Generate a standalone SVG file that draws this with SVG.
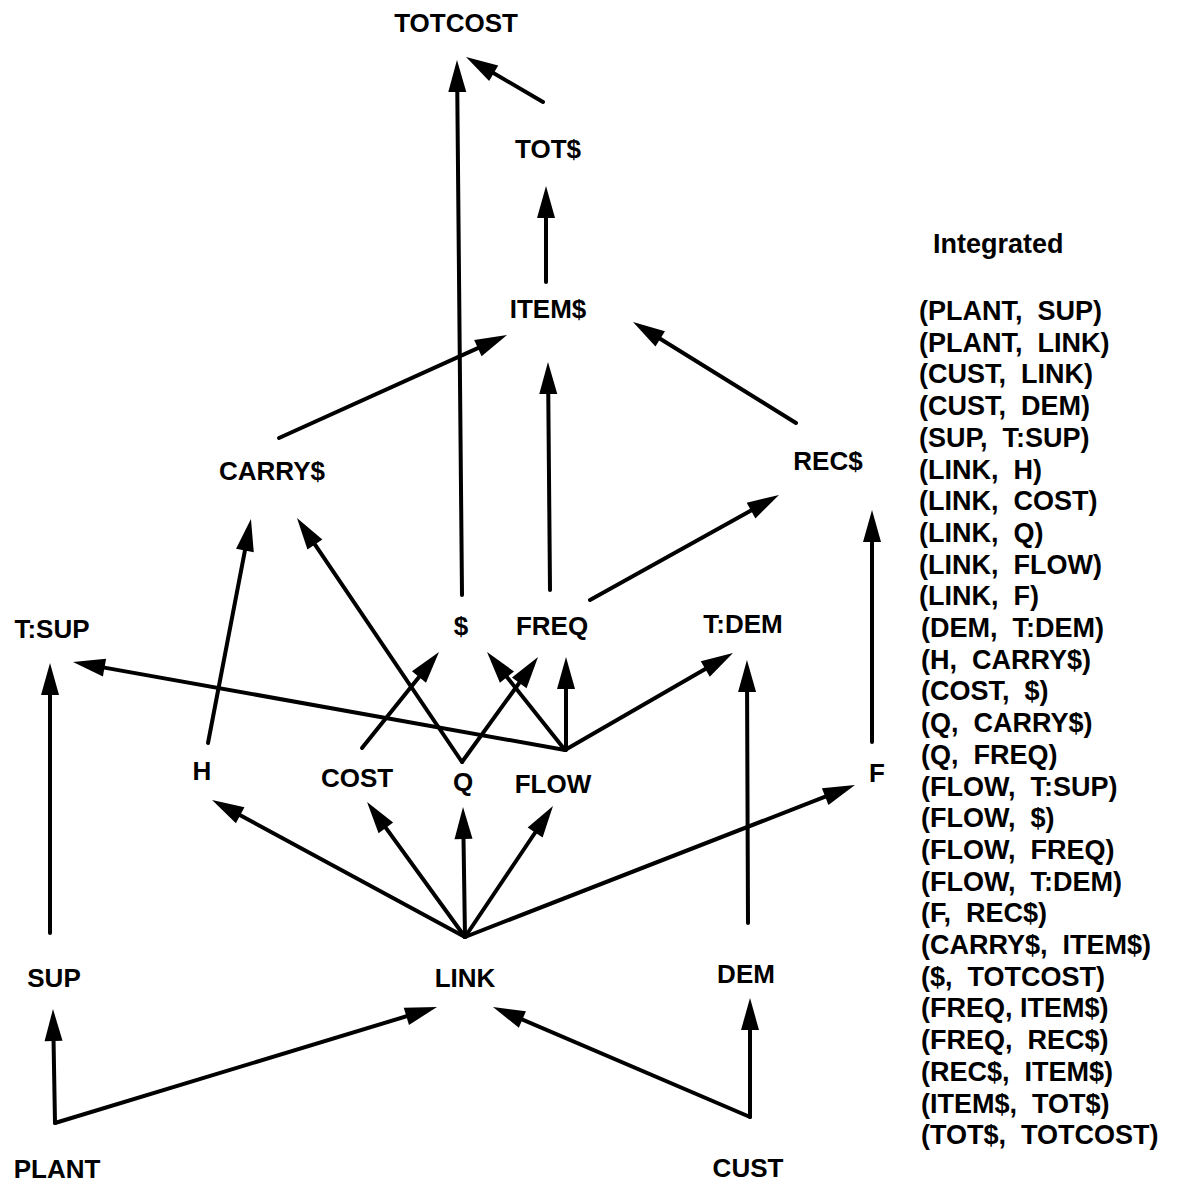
<svg xmlns="http://www.w3.org/2000/svg" width="1177" height="1185" viewBox="0 0 1177 1185">
  <style>
    .lbl { font-family: "Liberation Sans", Arial, sans-serif; font-weight: bold; font-size: 26px; fill: #000; text-anchor: middle; }
    .lst { font-family: "Liberation Sans", Arial, sans-serif; font-weight: bold; font-size: 27px; fill: #000; white-space: pre; }
    .edge { fill: none; stroke: #000; stroke-width: 4; stroke-linecap: round; marker-end: url(#head); }
  </style>
  <defs>
    <marker id="head" markerUnits="userSpaceOnUse" markerWidth="32" markerHeight="18" refX="20" refY="9" orient="auto" overflow="visible">
      <path d="M0,0 L32,9 L0,18 Z" fill="#000"/>
    </marker>
  </defs>
  <rect width="1177" height="1185" fill="#fff"/>

  <g id="connectors">
    <path class="edge" d="M462,595 L457.1,72"/>
    <path class="edge" d="M543,102 L476.4,63.1"/>
    <path class="edge" d="M546,282 L546,198"/>
    <path class="edge" d="M279,438 L496.1,339.9"/>
    <path class="edge" d="M550,590 L548.1,374"/>
    <path class="edge" d="M796,423 L643.2,328.3"/>
    <path class="edge" d="M208,743 L248.7,530.8"/>
    <path class="edge" d="M462,762 L303.7,527.9"/>
    <path class="edge" d="M462,762 L531,666.7"/>
    <path class="edge" d="M362,748 L431.5,661.4"/>
    <path class="edge" d="M565,750 L494.5,661.4"/>
    <path class="edge" d="M566,750 L566,669"/>
    <path class="edge" d="M565,750 L84.8,664.1"/>
    <path class="edge" d="M565,750 L722.6,659"/>
    <path class="edge" d="M590,600 L768.5,500.8"/>
    <path class="edge" d="M748,923 L747,672"/>
    <path class="edge" d="M872,742 L872,522"/>
    <path class="edge" d="M50,933 L50,675"/>
    <path class="edge" d="M465,937 L222.6,805.7"/>
    <path class="edge" d="M465,937 L374.1,811.7"/>
    <path class="edge" d="M465,937 L463.2,819"/>
    <path class="edge" d="M465,937 L546.3,816"/>
    <path class="edge" d="M465,937 L843.8,789.4"/>
    <path class="edge" d="M55,1123 L53.2,1021"/>
    <path class="edge" d="M55,1123 L425.5,1010.5"/>
    <path class="edge" d="M750,1117 L750,1010"/>
    <path class="edge" d="M750,1117 L504,1011.7"/>
  </g>

  <g id="n-totcost"><text class="lbl" x="456" y="32">TOTCOST</text></g>
  <g id="n-tot"><text class="lbl" x="548" y="158">TOT$</text></g>
  <g id="n-item"><text class="lbl" x="548" y="318">ITEM$</text></g>
  <g id="n-carry"><text class="lbl" x="272" y="480">CARRY$</text></g>
  <g id="n-rec"><text class="lbl" x="828" y="470">REC$</text></g>
  <g id="n-tsup"><text class="lbl" x="52" y="638">T:SUP</text></g>
  <g id="n-dollar"><text class="lbl" x="461" y="635">$</text></g>
  <g id="n-freq"><text class="lbl" x="552" y="635">FREQ</text></g>
  <g id="n-tdem"><text class="lbl" x="743" y="633">T:DEM</text></g>
  <g id="n-h"><text class="lbl" x="202" y="780">H</text></g>
  <g id="n-cost"><text class="lbl" x="357" y="787">COST</text></g>
  <g id="n-q"><text class="lbl" x="463" y="791">Q</text></g>
  <g id="n-flow"><text class="lbl" x="553" y="793">FLOW</text></g>
  <g id="n-f"><text class="lbl" x="877" y="782">F</text></g>
  <g id="n-sup"><text class="lbl" x="54" y="987">SUP</text></g>
  <g id="n-link"><text class="lbl" x="465" y="987">LINK</text></g>
  <g id="n-dem"><text class="lbl" x="746" y="983">DEM</text></g>
  <g id="n-plant"><text class="lbl" x="57" y="1178">PLANT</text></g>
  <g id="n-cust"><text class="lbl" x="748" y="1177">CUST</text></g>

  <g id="integrated-list">
    <text class="lst" x="933" y="253">Integrated</text>
    <text class="lst" x="919" y="320">(PLANT,  SUP)</text>
    <text class="lst" x="919" y="351.7">(PLANT,  LINK)</text>
    <text class="lst" x="919" y="383.4">(CUST,  LINK)</text>
    <text class="lst" x="919" y="415.1">(CUST,  DEM)</text>
    <text class="lst" x="919" y="446.8">(SUP,  T:SUP)</text>
    <text class="lst" x="919" y="478.5">(LINK,  H)</text>
    <text class="lst" x="919" y="510.2">(LINK,  COST)</text>
    <text class="lst" x="919" y="541.9">(LINK,  Q)</text>
    <text class="lst" x="919" y="573.6">(LINK,  FLOW)</text>
    <text class="lst" x="919" y="605.3">(LINK,  F)</text>
    <text class="lst" x="921" y="637">(DEM,  T:DEM)</text>
    <text class="lst" x="921" y="668.7">(H,  CARRY$)</text>
    <text class="lst" x="921" y="700.4">(COST,  $)</text>
    <text class="lst" x="921" y="732.1">(Q,  CARRY$)</text>
    <text class="lst" x="921" y="763.8">(Q,  FREQ)</text>
    <text class="lst" x="921" y="795.5">(FLOW,  T:SUP)</text>
    <text class="lst" x="921" y="827.2">(FLOW,  $)</text>
    <text class="lst" x="921" y="858.9">(FLOW,  FREQ)</text>
    <text class="lst" x="921" y="890.6">(FLOW,  T:DEM)</text>
    <text class="lst" x="921" y="922.3">(F,  REC$)</text>
    <text class="lst" x="921" y="954">(CARRY$,  ITEM$)</text>
    <text class="lst" x="921" y="985.7">($,  TOTCOST)</text>
    <text class="lst" x="921" y="1017.4">(FREQ, ITEM$)</text>
    <text class="lst" x="921" y="1049.1">(FREQ,  REC$)</text>
    <text class="lst" x="921" y="1080.8">(REC$,  ITEM$)</text>
    <text class="lst" x="921" y="1112.5">(ITEM$,  TOT$)</text>
    <text class="lst" x="921" y="1144.2">(TOT$,  TOTCOST)</text>
  </g>
</svg>
